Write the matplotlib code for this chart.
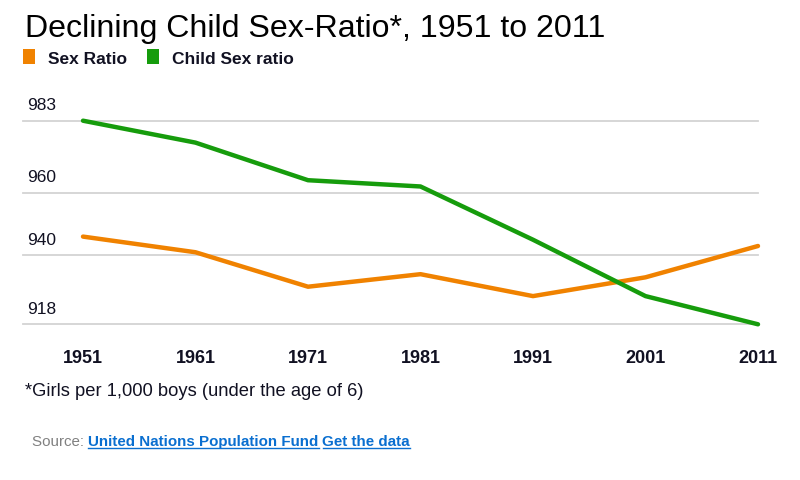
import matplotlib
matplotlib.use("Agg")
import matplotlib.pyplot as plt
from matplotlib.patches import Rectangle
from matplotlib.lines import Line2D

plt.rcParams['font.family'] = ['Liberation Sans', 'DejaVu Sans']

# ---- data ----
years = [1951, 1961, 1971, 1981, 1991, 2001, 2011]
sex_ratio = [946, 941, 930, 934, 927, 933, 943]
child_sex_ratio = [983, 976, 964, 962, 945, 927, 918]
ytick_vals = [918, 940, 960, 983]

ORANGE = '#f08200'
GREEN = '#169c0c'
TXT = '#111122'
LINK = '#0a6fd0'

W, H = 800, 481
fig = plt.figure(figsize=(W / 100, H / 100), dpi=100)

# axes placed in pixels: gridlines run x 23..758, y 121.7 (983) .. 325.3 (918)
x0, x1 = 23, 758
y_top, y_bot = 121.7, 325.3
ax = fig.add_axes([x0 / W, 1 - y_bot / H, (x1 - x0) / W, (y_bot - y_top) / H])

ax.plot(years, sex_ratio, color=ORANGE, lw=3.2, solid_capstyle='round',
        solid_joinstyle='round', clip_on=False, zorder=3)
ax.plot(years, child_sex_ratio, color=GREEN, lw=3.2, solid_capstyle='round',
        solid_joinstyle='round', clip_on=False, zorder=4)

# left pad so 1951 sits ~60px right of the gridline start
ax.set_xlim(1951 - 60 / 112.5 * 10, 2011)
ax.set_ylim(min(ytick_vals), max(ytick_vals))

for s in ax.spines.values():
    s.set_visible(False)

# gridlines + labels sitting above them
ax.set_yticks([])
for v in ytick_vals:
    ax.axhline(v, color='#d3d3d3', lw=1.3, zorder=1, clip_on=False)
    ax.annotate(str(v), xy=(0, v), xycoords=('axes fraction', 'data'),
                xytext=(3, 6), textcoords='offset points',
                ha='left', va='bottom', fontsize=12.5, color=TXT)

ax.set_xticks(years)
ax.set_xticklabels([str(y) for y in years], fontsize=13, fontweight='bold', color=TXT)
ax.tick_params(axis='x', length=0, pad=18)

# title
fig.text(25 / W, 1 - 37.5 / H, 'Declining Child Sex-Ratio*, 1951 to 2011',
         fontsize=23.1, color='black', ha='left', va='baseline')

# legend
def legend_item(x, color, label):
    fig.add_artist(Rectangle((x / W, 1 - 65 / H), 12 / W, 15 / H,
                             transform=fig.transFigure, color=color, lw=0))
    fig.text((x + 25) / W, 1 - 63.5 / H, label, fontsize=12.5, fontweight='bold',
             color=TXT, ha='left', va='baseline')

legend_item(23, ORANGE, 'Sex Ratio')
legend_item(147, GREEN, 'Child Sex ratio')

# footnote
fig.text(25 / W, 1 - 396 / H, '*Girls per 1,000 boys (under the age of 6)',
         fontsize=13.2, color=TXT, ha='left', va='baseline')

# source line with underlined links
fig.canvas.draw()
renderer = fig.canvas.get_renderer()
base_y = 1 - 446 / H
t = fig.text(32 / W, base_y, 'Source: ', fontsize=10.9, color='#808080',
             ha='left', va='baseline')
x_px = t.get_window_extent(renderer).x1
for label in ['United Nations Population Fund', 'Get the data']:
    lt = fig.text(x_px / W, base_y, label, fontsize=10.9, fontweight='bold',
                  color=LINK, ha='left', va='baseline')
    bb = lt.get_window_extent(renderer)
    fig.add_artist(Line2D([bb.x0 / W, bb.x1 / W], [base_y - 2.5 / H, base_y - 2.5 / H],
                          transform=fig.transFigure, color=LINK, lw=1.0))
    x_px = bb.x1 + 4

fig.savefig('out.png', dpi=100)
